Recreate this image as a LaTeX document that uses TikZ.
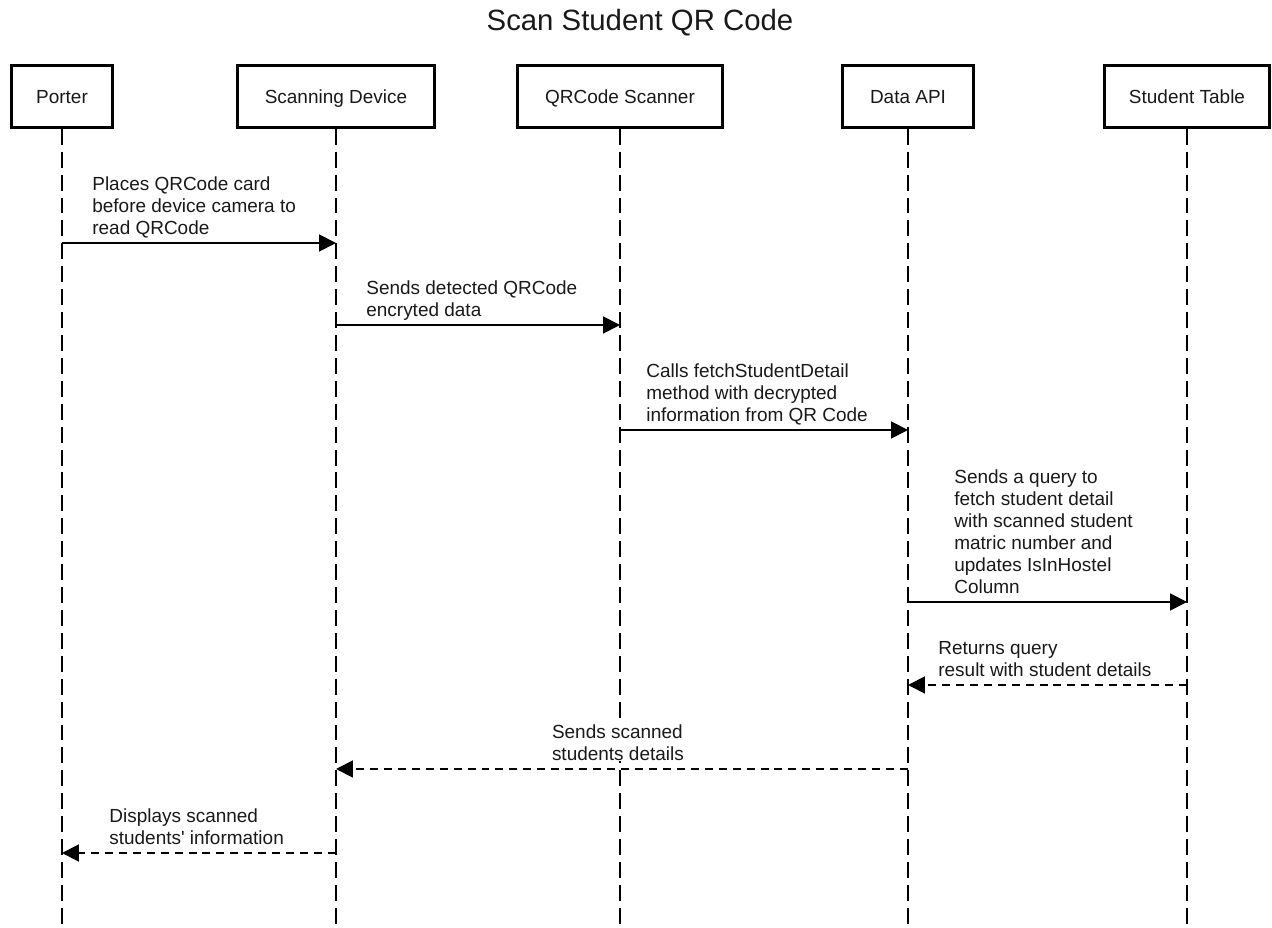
\documentclass[tikz,border=0pt]{standalone}
\usepackage{fontspec}
\setmainfont{Liberation Sans}
\usetikzlibrary{arrows.meta}

% one unit = 0.02cm (about 0.567pt)
\begin{document}
\begin{tikzpicture}[x=0.02cm, y=-0.02cm,
  every node/.style={text=black!90},
  actor/.style={draw, line width=1.7pt, fill=white, minimum height=35.1pt,
    inner sep=0pt, text height=7.7pt, text depth=0pt,
    font=\fontsize{10.8}{12.5}\selectfont},
  lifeline/.style={line width=1.02pt, dash pattern=on 9.07pt off 3.97pt},
  msg/.style={line width=1.13pt, -{Triangle[length=9.6pt, width=9.6pt]}},
  reply/.style={msg, dash pattern=on 4.54pt off 3.4pt},
  lbl/.style={anchor=north west, inner sep=0pt, align=left,
    font=\fontsize{10.8}{12.5}\selectfont}
]
\useasboundingbox (0,0) rectangle (1272,928);

% title
\node[anchor=base, inner sep=0pt, font=\fontsize{16.7}{20}\selectfont] (title) at (640,31) {Scan Student QR Code};

% participants
\node[actor, minimum width=57.8pt]  (porter)  at (62,96.5)   {Porter};
\node[actor, minimum width=112.2pt] (device)  at (336,96.5)  {Scanning Device};
\node[actor, minimum width=116.2pt] (scanner) at (620,96.5)  {QRCode Scanner};
\node[actor, minimum width=74.3pt]  (api)     at (908,96.5)  {Data API};
\node[actor, minimum width=94.1pt]  (table)   at (1187,96.5) {Student Table};

% lifelines
\foreach \p in {porter, device, scanner, api, table} {
  \coordinate (\p-end) at (\p |- 0,930);
  \draw[lifeline] (\p.south) -- (\p-end);
}

% messages
\draw[msg]   (porter  |- 0,243) -- (device  |- 0,243);
\draw[msg]   (device  |- 0,325) -- (scanner |- 0,325);
\draw[msg]   (scanner |- 0,430) -- (api     |- 0,430);
\draw[msg]   (api     |- 0,602) -- (table   |- 0,602);
\draw[reply] (table   |- 0,685) -- (api     |- 0,685);
\draw[reply] (api     |- 0,769) -- (device  |- 0,769);
\draw[reply] (device  |- 0,853) -- (porter  |- 0,853);

% message labels
\node[lbl] (l1) at (92,176.9)  {Places QRCode card\\before device camera to\\read QRCode};
\node[lbl] (l2) at (366,280.9) {Sends detected QRCode\\encryted data};
\node[lbl] (l3) at (646,363.9) {Calls fetchStudentDetail\\method with decrypted\\information from QR Code};
\node[lbl] (l4) at (954,469.9) {Sends a query to\\fetch student detail\\with scanned student\\matric number and\\updates IsInHostel\\Column};
\node[lbl] (l5) at (938,640.9) {Returns query\\result with student details};
\node[lbl, fill=white, outer sep=0pt] (l6) at (552,724.9) {Sends scanned\\students details};
\node[lbl] (l7) at (109,808.9) {Displays scanned\\students\textquotesingle\ information};
\end{tikzpicture}
\end{document}
